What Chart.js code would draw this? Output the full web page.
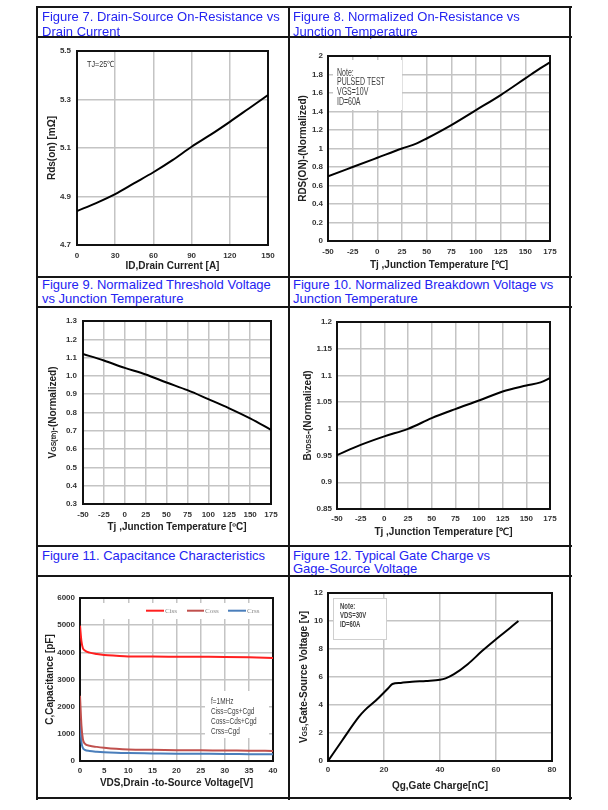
<!DOCTYPE html>
<html>
<head>
<meta charset="utf-8">
<script src="https://cdn.jsdelivr.net/npm/chart.js@4.4.1/dist/chart.umd.min.js"></script>
<style>
  html, body { margin: 0; padding: 0; background: #fff; }
  #page { position: relative; width: 608px; height: 810px; overflow: hidden; font-family: "Liberation Sans", Arial, sans-serif; }
  .hl, .vl { position: absolute; background: #161616; }
  .hl { left: 37px; width: 535px; height: 2px; }
  .vl { top: 6px; width: 2px; height: 794px; }
  .ttl { position: absolute; color: #2424f2; font-size: 13px; white-space: nowrap; }
  canvas { position: absolute; }
</style>
</head>
<body>
<div id="page">
  <canvas id="fig7" width="250" height="238" style="left:38px;top:38px"></canvas>
  <canvas id="fig8" width="279" height="238" style="left:290px;top:38px"></canvas>
  <canvas id="fig9" width="250" height="237" style="left:38px;top:308px"></canvas>
  <canvas id="fig10" width="279" height="237" style="left:290px;top:308px"></canvas>
  <canvas id="fig11" width="250" height="220" style="left:38px;top:577px"></canvas>
  <canvas id="fig12" width="279" height="220" style="left:290px;top:577px"></canvas>

  <div class="ttl" style="left:42px;top:8.5px;line-height:15px">Figure 7. Drain-Source On-Resistance vs<br>Drain Current</div>
  <div class="ttl" style="left:293px;top:8.5px;line-height:15px">Figure 8. Normalized On-Resistance vs<br>Junction Temperature</div>
  <div class="ttl" style="left:42px;top:278px;line-height:14px">Figure 9. Normalized Threshold Voltage<br>vs Junction Temperature</div>
  <div class="ttl" style="left:293px;top:278px;line-height:14px">Figure 10. Normalized Breakdown Voltage vs<br>Junction Temperature</div>
  <div class="ttl" style="left:42px;top:548.5px;line-height:13px">Figure 11. Capacitance Characteristics</div>
  <div class="ttl" style="left:293px;top:548.5px;line-height:13px">Figure 12. Typical Gate Charge vs<br>Gage-Source Voltage</div>

  <div class="hl" style="top:6px"></div>
  <div class="hl" style="top:36px"></div>
  <div class="hl" style="top:276px"></div>
  <div class="hl" style="top:306px"></div>
  <div class="hl" style="top:545px"></div>
  <div class="hl" style="top:575px"></div>
  <div class="hl" style="top:797px"></div>
  <div class="vl" style="left:36px"></div>
  <div class="vl" style="left:288px"></div>
  <div class="vl" style="left:569px"></div>
</div>

<script>
// Figure 7 - Rds(on) vs drain current (TJ=25C)
var fig7Current = [0, 15, 30, 45, 60, 75, 90, 105, 120, 135, 150];
var fig7Rds = [4.84, 4.873, 4.91, 4.955, 5.0, 5.05, 5.105, 5.155, 5.208, 5.263, 5.318];
var fig7XAxis = [0, 150, 30];
var fig7YAxis = [4.7, 5.5, 0.2];

// Figure 8 - normalized on-resistance vs junction temperature
var fig8Temp = [-50, -25, 0, 25, 40, 50, 75, 100, 125, 150, 165, 175];
var fig8Rds = [0.70, 0.80, 0.90, 1.0, 1.055, 1.108, 1.253, 1.415, 1.578, 1.758, 1.866, 1.931];
var fig8XAxis = [-50, 175, 25];
var fig8YAxis = [0, 2, 0.2];

// Figure 9 - normalized threshold voltage
var fig9Temp = [-50, -25, 0, 25, 50, 75, 100, 125, 150, 175];
var fig9Vth = [1.12, 1.084, 1.044, 1.008, 0.964, 0.922, 0.873, 0.823, 0.768, 0.705];
var fig9XAxis = [-50, 175, 25];
var fig9YAxis = [0.3, 1.3, 0.1];

// Figure 10 - normalized breakdown voltage
var fig10Temp = [-50, -25, 0, 25, 50, 75, 100, 125, 150, 165, 175];
var fig10Bv = [0.951, 0.970, 0.986, 1.0, 1.02, 1.037, 1.053, 1.07, 1.081, 1.087, 1.095];
var fig10XAxis = [-50, 175, 25];
var fig10YAxis = [0.85, 1.2, 0.05];

// Figure 11 - capacitance characteristics
var fig11Vds = [0, 0.3, 0.6, 1, 2, 3.5, 5, 7.5, 10, 15, 20, 25, 30, 35, 40];
var fig11Ciss = [4980, 4400, 4150, 4070, 3990, 3940, 3905, 3875, 3850, 3845, 3840, 3835, 3830, 3815, 3790];
var fig11Coss = [2400, 1300, 800, 640, 560, 520, 490, 450, 425, 410, 400, 395, 385, 380, 370];
var fig11Crss = [1500, 700, 480, 410, 370, 340, 320, 300, 290, 280, 270, 265, 260, 252, 245];
var fig11Names = ["Ciss", "Coss", "Crss"];
var fig11Colors = ["#ff1f1f", "#c0504d", "#4a7ebb"];
var fig11XAxis = [0, 40, 5];
var fig11YAxis = [0, 6000, 1000];

// Figure 12 - gate charge
var fig12Qg = [0, 5, 11, 13, 17, 21.5, 23, 26, 30, 35, 40, 42, 45, 50, 55, 60, 65, 68];
var fig12Vgs = [0, 1.45, 3.15, 3.6, 4.3, 5.2, 5.5, 5.58, 5.66, 5.72, 5.8, 5.9, 6.2, 6.93, 7.85, 8.7, 9.5, 10.0];
var fig12XAxis = [0, 80, 20];
var fig12YAxis = [0, 12, 2];

var FONT = '"Liberation Sans", Arial, sans-serif';

function pts(xs, ys) {
    return xs.map(function (x, i) { return { x: x, y: ys[i] }; });
}

function lineSet(xs, ys, color, label) {
    return {
        label: label || '',
        data: pts(xs, ys),
        borderColor: color,
        borderWidth: 2,
        pointRadius: 0,
        fill: false,
        cubicInterpolationMode: 'monotone'
    };
}

// black frame round the plot area
var framePlugin = {
    id: 'frame',
    beforeDatasetsDraw: function (chart) {
        var a = chart.chartArea, c = chart.ctx;
        c.save();
        c.strokeStyle = '#111';
        c.lineWidth = 2;
        c.strokeRect(a.left, a.top, a.right - a.left, a.bottom - a.top);
        c.restore();
    }
};

// note boxes, inner legend, text annotations (offsets from the plot corner)
var notesPlugin = {
    id: 'notes',
    beforeDatasetsDraw: function (chart, args, opts) {
        var a = chart.chartArea, c = chart.ctx;
        c.save();
        (opts.boxes || []).forEach(function (b) {
            c.fillStyle = '#fff';
            c.fillRect(a.left + b.x, a.top + b.y, b.w, b.h);
            if (b.stroke) {
                c.strokeStyle = b.stroke;
                c.lineWidth = 1;
                c.strokeRect(a.left + b.x + 0.5, a.top + b.y + 0.5, b.w, b.h);
            }
        });
        (opts.lines || []).forEach(function (l) {
            c.strokeStyle = l.color;
            c.lineWidth = 2;
            c.beginPath();
            c.moveTo(a.left + l.x1, a.top + l.y);
            c.lineTo(a.left + l.x2, a.top + l.y);
            c.stroke();
        });
        (opts.texts || []).forEach(function (t) {
            c.save();
            c.translate(a.left + t.x, a.top + t.y);
            c.scale(t.sx || 1, 1);   // narrow the face, the notes were set in a condensed font
            c.font = t.font;
            c.fillStyle = t.color || '#333';
            c.textAlign = 'left';
            c.textBaseline = 'middle';
            c.fillText(t.text, 0, 0);
            c.restore();
        });
        c.restore();
    }
};

// rotated y title with a smaller subscript part
var richTitlePlugin = {
    id: 'richTitle',
    afterDraw: function (chart, args, opts) {
        if (!opts.segments) return;
        var a = chart.chartArea, c = chart.ctx;
        c.save();
        c.translate(opts.x, (a.top + a.bottom) / 2);
        c.rotate(-Math.PI / 2);
        c.fillStyle = '#222';
        c.textBaseline = 'alphabetic';
        c.textAlign = 'left';
        var total = 0;
        opts.segments.forEach(function (s) {
            c.font = 'bold ' + s[1] + 'px ' + FONT;
            total += c.measureText(s[0]).width;
        });
        var x = -total / 2;
        opts.segments.forEach(function (s) {
            c.font = 'bold ' + s[1] + 'px ' + FONT;
            c.fillText(s[0], x, 3.6);
            x += c.measureText(s[0]).width;
        });
        c.restore();
    }
};

function numLabel(v) {
    return String(+v.toFixed(3));
}

function noteLines(lines, x, y0, dy, font, sx, color) {
    return lines.map(function (t, i) {
        return { text: t, x: x, y: y0 + i * dy, font: font, sx: sx, color: color };
    });
}

function makeChart(id, cfg) {
    var ctx = document.getElementById(id);
    var tickFont = { family: FONT, size: 8, weight: 'bold' };
    var titleFont = { family: FONT, size: 10, weight: 'bold' };
    var grid = { color: '#c4c4c4', lineWidth: 1.5, drawTicks: false };

    var config = {
        type: 'line',
        data: { datasets: cfg.datasets },
        options: {
            responsive: false,
            animation: false,
            layout: { padding: { top: cfg.padTop, right: cfg.padRight, left: 0, bottom: 0 } },
            plugins: {
                legend: { display: false },
                tooltip: { enabled: false },
                notes: cfg.notes || {},
                richTitle: cfg.richTitle || {}
            },
            scales: {
                x: {
                    type: 'linear',
                    min: cfg.xAxis[0], max: cfg.xAxis[1],
                    ticks: { stepSize: cfg.xAxis[2], padding: cfg.xTickPad, font: tickFont, color: '#333',
                             maxRotation: 0, autoSkip: false, callback: numLabel },
                    grid: grid,
                    border: { display: false },
                    title: { display: true, text: cfg.xTitle, font: titleFont, color: '#222',
                             padding: { top: 0, bottom: cfg.xTitlePad } },
                    afterFit: function (s) { s.height = cfg.xH; s.paddingLeft = 0; s.paddingRight = 0; }
                },
                y: {
                    min: cfg.yAxis[0], max: cfg.yAxis[1],
                    ticks: { stepSize: cfg.yAxis[2], padding: cfg.yTickPad, font: tickFont, color: '#333',
                             autoSkip: false, callback: cfg.yFormat || numLabel },
                    grid: grid,
                    border: { display: false },
                    title: { display: !!cfg.yTitle, text: cfg.yTitle || '', font: titleFont, color: '#222',
                             padding: { top: cfg.yTitlePad, bottom: 0 } },
                    afterFit: function (s) { s.width = cfg.yW; s.paddingTop = 0; s.paddingBottom = 0; }
                }
            }
        },
        plugins: [framePlugin, notesPlugin, richTitlePlugin]
    };
    return new Chart(ctx, config);
}

window.addEventListener('load', function () {

    // Figure 7
    makeChart('fig7', {
        datasets: [lineSet(fig7Current, fig7Rds, '#000')],
        xAxis: fig7XAxis, yAxis: fig7YAxis,
        yW: 39, xH: 31, padTop: 13, padRight: 20,
        xTickPad: 6, yTickPad: 6, xTitlePad: 4, yTitlePad: 8,
        xTitle: 'ID,Drain Current [A]', yTitle: 'Rds(on) [m\u03a9]',
        notes: { texts: [{ text: 'TJ=25\u2103', x: 10, y: 13.5, font: '8.5px ' + FONT, sx: 0.85, color: '#333' }] }
    });

    // Figure 8
    makeChart('fig8', {
        datasets: [lineSet(fig8Temp, fig8Rds, '#000')],
        xAxis: fig8XAxis, yAxis: fig8YAxis,
        yW: 38, xH: 35, padTop: 18, padRight: 19,
        xTickPad: 6, yTickPad: 5, xTitlePad: 5, yTitlePad: 7,
        xTitle: 'Tj ,Junction Temperature [\u2103]', yTitle: 'RDS(ON)-(Normalized)',
        notes: {
            boxes: [{ x: 5, y: 4, w: 69, h: 50 }],
            texts: noteLines(['Note:', 'PULSED TEST', 'VGS=10V', 'ID=60A'], 9, 16.9, 9.8, '10px ' + FONT, 0.7, '#404040')
        }
    });

    // Figure 9
    makeChart('fig9', {
        datasets: [lineSet(fig9Temp, fig9Vth, '#000')],
        xAxis: fig9XAxis, yAxis: fig9YAxis,
        yW: 45, xH: 41, padTop: 13, padRight: 17,
        xTickPad: 6, yTickPad: 6, xTitlePad: 12, yTitlePad: 0,
        yFormat: function (v) { return v.toFixed(1); },
        xTitle: 'Tj ,Junction Temperature [\u00baC]',
        richTitle: { x: 14, segments: [['V', 10], ['GS(th)', 7], ['-(Normalized)', 10]] }
    });

    // Figure 10
    makeChart('fig10', {
        datasets: [lineSet(fig10Temp, fig10Bv, '#000')],
        xAxis: fig10XAxis, yAxis: fig10YAxis,
        yW: 47, xH: 36, padTop: 14, padRight: 19,
        xTickPad: 5, yTickPad: 5, xTitlePad: 7, yTitlePad: 0,
        xTitle: 'Tj ,Junction Temperature [\u2103]',
        richTitle: { x: 17, segments: [['B', 10], ['VDSS', 7], ['-(Normalized)', 10]] }
    });

    // Figure 11
    var leg11 = '7px "Liberation Serif", serif';
    var legY = 12.7;
    makeChart('fig11', {
        datasets: [
            lineSet(fig11Vds, fig11Ciss, fig11Colors[0], fig11Names[0]),
            lineSet(fig11Vds, fig11Coss, fig11Colors[1], fig11Names[1]),
            lineSet(fig11Vds, fig11Crss, fig11Colors[2], fig11Names[2])
        ],
        xAxis: fig11XAxis, yAxis: fig11YAxis,
        yW: 42, xH: 36, padTop: 21, padRight: 15,
        xTickPad: 5, yTickPad: 5, xTitlePad: 8, yTitlePad: 6,
        xTitle: 'VDS,Drain -to-Source Voltage[V]', yTitle: 'C,Capacitance [pF]',
        notes: {
            boxes: [{ x: 20, y: 5, w: 172, h: 16 }, { x: 125, y: 93, w: 64, h: 47 }],
            lines: [
                { x1: 66, x2: 84, y: legY, color: fig11Colors[0] },
                { x1: 107, x2: 124, y: legY, color: fig11Colors[1] },
                { x1: 148, x2: 166, y: legY, color: fig11Colors[2] }
            ],
            texts: [
                { text: fig11Names[0], x: 85, y: legY, font: leg11, color: '#888' },
                { text: fig11Names[1], x: 125, y: legY, font: leg11, color: '#888' },
                { text: fig11Names[2], x: 167, y: legY, font: leg11, color: '#888' }
            ].concat(noteLines(['f=1MHz', 'Ciss=Cgs+Cgd', 'Coss=Cds+Cgd', 'Crss=Cgd'], 131, 103, 10, '9.5px ' + FONT, 0.68, '#404040'))
        }
    });

    // Figure 12
    makeChart('fig12', {
        datasets: [lineSet(fig12Qg, fig12Vgs, '#000')],
        xAxis: fig12XAxis, yAxis: fig12YAxis,
        yW: 38, xH: 36, padTop: 16, padRight: 17,
        xTickPad: 4, yTickPad: 5, xTitlePad: 5, yTitlePad: 0,
        xTitle: 'Qg,Gate Charge[nC]',
        richTitle: { x: 13, segments: [['V', 10], ['GS', 7], [',Gate-Source Voltage [v]', 10]] },
        notes: {
            boxes: [{ x: 5, y: 5, w: 53, h: 41, stroke: '#cfcfcf' }],
            texts: noteLines(['Note:', 'VDS=30V', 'ID=60A'], 12, 14, 9, 'bold 9px ' + FONT, 0.66, '#444')
        }
    });
});
</script>
</body>
</html>
